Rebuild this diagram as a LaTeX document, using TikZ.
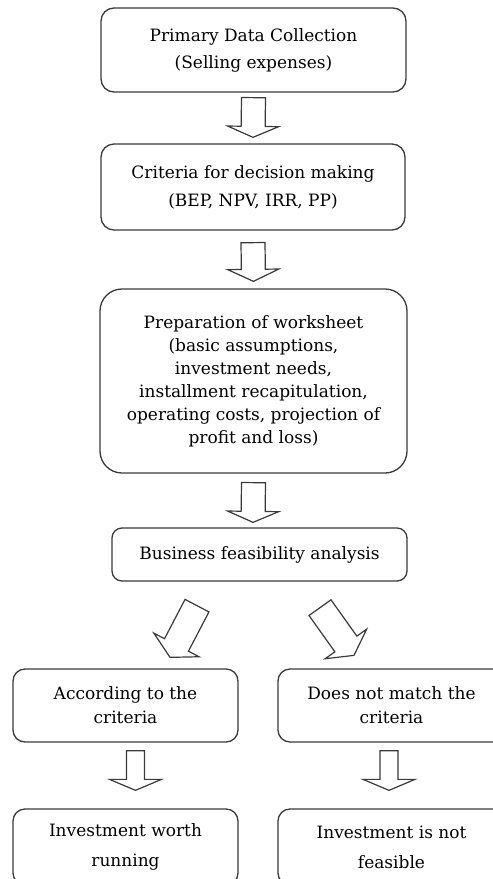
\documentclass[tikz,border=0pt]{standalone}
\usepackage{fontspec}
\setmainfont{DejaVu Serif}
\usetikzlibrary{calc}
\definecolor{edge}{HTML}{3A3A3A}
\newcommand\blockarr[5]{%
  \coordinate (ba-h) at ($(#2)!#5!(#1)$);
  \draw[blockarrow] ($(#1)!#3!90:(#2)$) -- ($(ba-h)!#3!90:(#2)$) -- ($(ba-h)!#4!90:(#2)$) -- (#2)
    -- ($(ba-h)!#4!-90:(#2)$) -- ($(ba-h)!#3!-90:(#2)$) -- ($(#1)!#3!-90:(#2)$) -- cycle;
}
\begin{document}
\begin{tikzpicture}[x=1pt,y=-1pt,
  box/.style={draw=edge, line width=1.3pt, rounded corners=13pt, align=center,
    inner sep=0pt, font=\fontsize{17}{23}\selectfont, text=black},
  blockarrow/.style={draw=edge, line width=1.2pt, fill=white, line join=miter}]
\path[use as bounding box] (0,0) rectangle (493,879);
\clip (0,0) rectangle (493,879);
\node[box, minimum width=305pt, minimum height=84pt] (b1) at (253.5,50) {Primary Data Collection\\[4pt](Selling expenses)};
\node[box, minimum width=304pt, minimum height=86pt] (b2) at (253,187) {Criteria for decision making\\[5pt](BEP, NPV, IRR, PP)};
\node[box, minimum width=307pt, minimum height=184pt, rounded corners=22pt] (b3) at (253.5,381) {Preparation of worksheet\\(basic assumptions,\\investment needs,\\installment recapitulation,\\operating costs, projection of\\profit and loss)};
\node[box, minimum width=295pt, minimum height=53pt, rounded corners=10pt] (b4) at (259.5,554.5) {Business feasibility analysis};
\node[box, minimum width=225pt, minimum height=73pt, rounded corners=12pt] (b5) at (125.5,705.5) {According to the\\[1pt]criteria};
\node[box, minimum width=227pt, minimum height=73pt, rounded corners=12pt] (b6) at (391.5,705.5) {Does not match the\\[1pt]criteria};
\node[box, minimum width=225pt, minimum height=76pt, rounded corners=12pt] (b7) at (125.5,847) {Investment worth\\[7pt]running};
\node[box, minimum width=227pt, minimum height=76pt, rounded corners=12pt] (b8) at (391.5,847) {Investment is not\\[7pt]feasible};

\coordinate (a1s) at ($(b1.south)+(0,5)$);
\coordinate (a1e) at ($(b2.north)+(0,-6)$);
\coordinate (a2s) at ($(b2.south)+(0,12)$);
\coordinate (a2e) at ($(b3.north)+(0,-7)$);
\coordinate (a3s) at ($(b3.south)+(0,9)$);
\coordinate (a3e) at ($(b4.north)+(-6.5,-5)$);
\coordinate (a4s) at ($(b4.south)+(-62.5,24)$);
\coordinate (a4e) at ($(b5.north)+(44.5,-11)$);
\coordinate (a5s) at ($(b4.south)+(60.5,26)$);
\coordinate (a5e) at ($(b6.north)+(-37.5,-13)$);
\coordinate (a6s) at ($(b5.south)+(10,8)$);
\coordinate (a6e) at ($(b7.north)+(10,-18)$);
\coordinate (a7s) at ($(b6.south)+(-2.5,8)$);
\coordinate (a7e) at ($(b8.north)+(-2.5,-18)$);

\blockarr{a1s}{a1e}{12pt}{25.5pt}{11pt}
\blockarr{a2s}{a2e}{12pt}{25.5pt}{12pt}
\blockarr{a3s}{a3e}{12pt}{25.5pt}{11pt}
\blockarr{a4s}{a4e}{13.5pt}{25.5pt}{14pt}
\blockarr{a5s}{a5e}{13.5pt}{25.5pt}{14pt}
\blockarr{a6s}{a6e}{9pt}{26pt}{11pt}
\blockarr{a7s}{a7e}{9pt}{26pt}{11pt}
\end{tikzpicture}
\end{document}
